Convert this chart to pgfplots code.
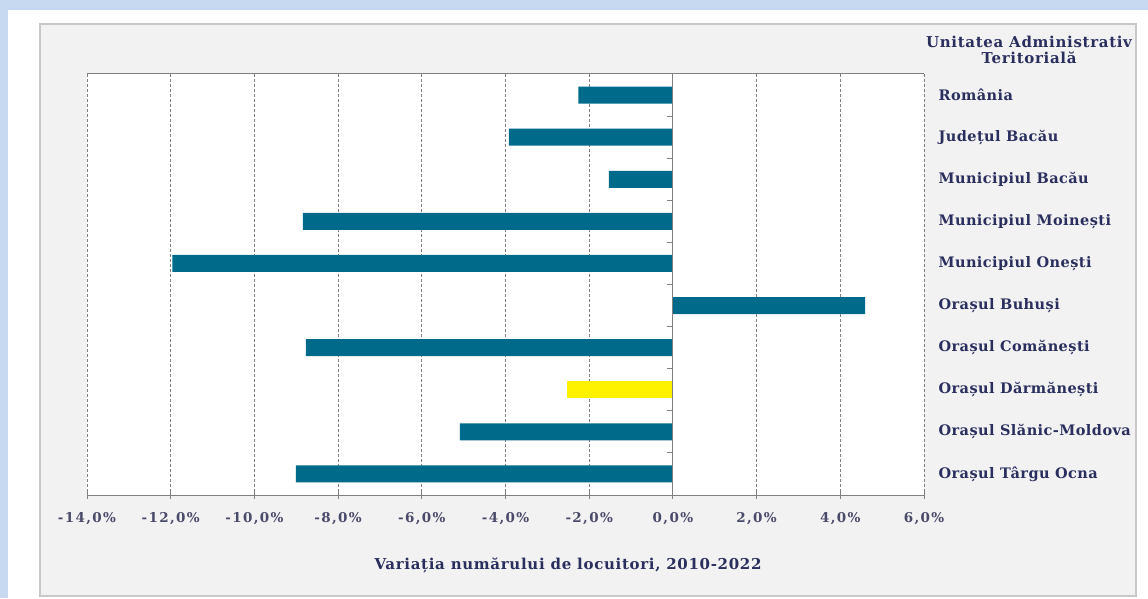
\documentclass[border=0pt]{standalone}
\usepackage{pgfplots}
\pgfplotsset{compat=1.18}
\usepackage{fontspec}
\setmainfont{DejaVu Serif}
\newfontfamily\lblfont[LetterSpace=3]{DejaVu Serif}
\newfontfamily\tickfont[LetterSpace=10]{DejaVu Serif}
\newfontfamily\titlefont[LetterSpace=4.5]{DejaVu Serif}
\definecolor{bgblue}{HTML}{C6D9F0}
\definecolor{panelfill}{HTML}{F2F2F2}
\definecolor{panelborder}{HTML}{C8C8C8}
\definecolor{barblue}{HTML}{006A8A}
\definecolor{txt}{HTML}{2A2F5E}
\definecolor{ticktxt}{HTML}{4A4A6A}
\definecolor{axgray}{HTML}{808080}
\begin{document}
\begin{tikzpicture}[x=1pt,y=1pt]
\fill[bgblue] (0,0) rectangle (1148,598);
\fill[white] (8,0) rectangle (1148,588);
\draw[panelborder, fill=panelfill, line width=1.2pt] (40,2) rectangle (1136,574);
\begin{axis}[
  at={(87pt,103pt)}, anchor=south west, scale only axis,
  width=837pt, height=421pt,
  xmin=-14, xmax=6, ymin=-0.5, ymax=9.5, y dir=reverse,
  axis background/.style={fill=white},
  separate axis lines,
  x axis line style={axgray, line width=1pt},
  y axis line style={draw=none},
  xtick={-14,-12,-10,-8,-6,-4,-2,0,2,4,6},
  xticklabels={{-14,0\%},{-12,0\%},{-10,0\%},{-8,0\%},{-6,0\%},{-4,0\%},{-2,0\%},{0,0\%},{2,0\%},{4,0\%},{6,0\%}},
  xtick pos=bottom, tick align=center,
  major tick length=7pt,
  x tick style={axgray, line width=1pt},
  xticklabel style={font=\tickfont\bfseries\fontsize{13.5}{15}\selectfont, text=ticktxt, yshift=-10pt},
  ytick={0,1,2,3,4,5,6,7,8,9},
  yticklabels={România,Județul Bacău,Municipiul Bacău,Municipiul Moinești,Municipiul Onești,Orașul Buhuși,Orașul Comănești,Orașul Dărmănești,Orașul Slănic-Moldova,Orașul Târgu Ocna},
  yticklabel pos=right,
  y tick style={draw=none},
  yticklabel style={font=\lblfont\bfseries\fontsize{14.5}{16}\selectfont, text=txt, anchor=west, xshift=4pt},
  xmajorgrids,
  grid style={axgray, line width=1pt, dash pattern=on 3pt off 2pt},
  xbar, bar width=17pt, bar shift=0pt,
]
\addplot[fill=barblue, draw=none] coordinates {
  (-2.26,0) (-3.92,1) (-1.53,2) (-8.84,3) (-11.96,4) (4.59,5) (-8.77,6) (-5.09,8) (-9.01,9)
};
\addplot[fill=yellow, draw=none] coordinates {(-2.53,7)};
\draw[axgray, line width=1pt] (axis cs:0,-0.5) -- (axis cs:0,9.5);
\pgfplotsinvokeforeach{0.5,1.5,2.5,3.5,4.5,5.5,6.5,7.5,8.5}{
  \draw[axgray, line width=1pt] (axis cs:0,#1) -- ([xshift=-6pt]axis cs:0,#1);
}
\end{axis}
\node[font=\titlefont\bfseries\fontsize{15}{16}\selectfont, text=txt] at (568,33) {Variația numărului de locuitori, 2010-2022};
\node[font=\titlefont\bfseries\fontsize{15}{16}\selectfont, text=txt, align=center] at (1029,548) {Unitatea Administrativ\\Teritorială};
\pgfresetboundingbox
\useasboundingbox (0,0) rectangle (1148,598);
\end{tikzpicture}
\end{document}
